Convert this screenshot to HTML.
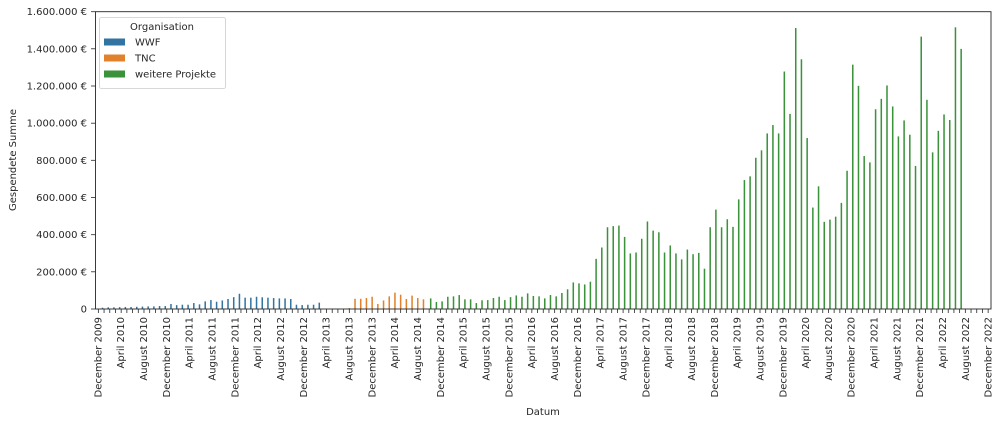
<!DOCTYPE html>
<html><head><meta charset="utf-8"><style>
body{margin:0;background:#fff}
svg text{font-family:"DejaVu Sans","Liberation Sans",sans-serif;fill:#262626}
</style></head><body>
<svg id="s" width="1000" height="425" viewBox="0 0 1000 425" xmlns="http://www.w3.org/2000/svg">
<rect width="1000" height="425" fill="#fff"/>
<g id="bars"></g>
<g id="ticks" stroke="#262626" stroke-width="0.8"></g>
<rect x="95.5" y="11.7" width="895.5" height="297.3" fill="none" stroke="#262626" stroke-width="0.9"/>
<g font-size="10" text-anchor="end">
<text x="87" y="312.5">0</text>
<text x="87" y="275.3">200.000 €</text>
<text x="87" y="238.2">400.000 €</text>
<text x="87" y="201.0">600.000 €</text>
<text x="87" y="163.8">800.000 €</text>
<text x="87" y="126.7">1.000.000 €</text>
<text x="87" y="89.5">1.200.000 €</text>
<text x="87" y="52.3">1.400.000 €</text>
<text x="87" y="15.2">1.600.000 €</text>
</g>
<g stroke="#262626" stroke-width="0.8">
<line x1="91" x2="95.5" y1="309" y2="309"/><line x1="91" x2="95.5" y1="271.8" y2="271.8"/><line x1="91" x2="95.5" y1="234.7" y2="234.7"/><line x1="91" x2="95.5" y1="197.5" y2="197.5"/><line x1="91" x2="95.5" y1="160.3" y2="160.3"/><line x1="91" x2="95.5" y1="123.2" y2="123.2"/><line x1="91" x2="95.5" y1="86" y2="86"/><line x1="91" x2="95.5" y1="48.8" y2="48.8"/><line x1="91" x2="95.5" y1="11.7" y2="11.7"/>
</g>
<text font-size="10" text-anchor="middle" transform="translate(16,160) rotate(-90)">Gespendete Summe</text>
<text font-size="10" x="543" y="415" text-anchor="middle">Datum</text>
<g font-size="10" text-anchor="end">
<text transform="translate(101.4,317) rotate(-90)">December 2009</text>
<text transform="translate(124.2,317) rotate(-90)">April 2010</text>
<text transform="translate(147.0,317) rotate(-90)">August 2010</text>
<text transform="translate(169.8,317) rotate(-90)">December 2010</text>
<text transform="translate(192.7,317) rotate(-90)">April 2011</text>
<text transform="translate(215.5,317) rotate(-90)">August 2011</text>
<text transform="translate(238.3,317) rotate(-90)">December 2011</text>
<text transform="translate(261.2,317) rotate(-90)">April 2012</text>
<text transform="translate(284.0,317) rotate(-90)">August 2012</text>
<text transform="translate(306.8,317) rotate(-90)">December 2012</text>
<text transform="translate(329.7,317) rotate(-90)">April 2013</text>
<text transform="translate(352.5,317) rotate(-90)">August 2013</text>
<text transform="translate(375.3,317) rotate(-90)">December 2013</text>
<text transform="translate(398.1,317) rotate(-90)">April 2014</text>
<text transform="translate(421.0,317) rotate(-90)">August 2014</text>
<text transform="translate(443.8,317) rotate(-90)">December 2014</text>
<text transform="translate(466.6,317) rotate(-90)">April 2015</text>
<text transform="translate(489.5,317) rotate(-90)">August 2015</text>
<text transform="translate(512.3,317) rotate(-90)">December 2015</text>
<text transform="translate(535.1,317) rotate(-90)">April 2016</text>
<text transform="translate(558.0,317) rotate(-90)">August 2016</text>
<text transform="translate(580.8,317) rotate(-90)">December 2016</text>
<text transform="translate(603.6,317) rotate(-90)">April 2017</text>
<text transform="translate(626.4,317) rotate(-90)">August 2017</text>
<text transform="translate(649.3,317) rotate(-90)">December 2017</text>
<text transform="translate(672.1,317) rotate(-90)">April 2018</text>
<text transform="translate(694.9,317) rotate(-90)">August 2018</text>
<text transform="translate(717.8,317) rotate(-90)">December 2018</text>
<text transform="translate(740.6,317) rotate(-90)">April 2019</text>
<text transform="translate(763.4,317) rotate(-90)">August 2019</text>
<text transform="translate(786.3,317) rotate(-90)">December 2019</text>
<text transform="translate(809.1,317) rotate(-90)">April 2020</text>
<text transform="translate(831.9,317) rotate(-90)">August 2020</text>
<text transform="translate(854.7,317) rotate(-90)">December 2020</text>
<text transform="translate(877.6,317) rotate(-90)">April 2021</text>
<text transform="translate(900.4,317) rotate(-90)">August 2021</text>
<text transform="translate(923.2,317) rotate(-90)">December 2021</text>
<text transform="translate(946.1,317) rotate(-90)">April 2022</text>
<text transform="translate(968.9,317) rotate(-90)">August 2022</text>
<text transform="translate(991.7,317) rotate(-90)">December 2022</text>
</g>
<rect x="99.5" y="17.5" width="126" height="71" rx="2" fill="#fff" fill-opacity="0.85" stroke="#ccc" stroke-width="0.8"/>
<text font-size="10" x="162" y="30" text-anchor="middle">Organisation</text>
<rect x="104" y="38.5" width="21" height="7" fill="#3274a1"/>
<rect x="104" y="54.5" width="21" height="7" fill="#e1812c"/>
<rect x="104" y="70.5" width="21" height="7" fill="#3a923a"/>
<text font-size="10" x="135" y="45.5">WWF</text>
<text font-size="10" x="135" y="61.5">TNC</text>
<text font-size="10" x="135" y="77.5">weitere Projekte</text>
</svg>
<script>
var W=895.5/157,L=95.5,B=309,S=297.3/1600;
var blue=[0,7,9,9,10,11,11,12,13,14,14,16,16,27,21,23,23,32,25,41,48,39,46,54,64,82,61,61,66,63,61,59,57,57,54,23,21,23,23,34];
var orange={44:5,45:55,46:55,47:59,48:66,49:27,50:46,51:68,52:88,53:77,54:54,55:72,56:59,57:52};
var green=[57,38,41,66,68,75,52,52,32,47,48,59,66,48,64,73,66,84,70,68,57,75,68,86,106,143,138,132,147,270,331,440,446,449,388,299,304,378,471,422,413,304,342,299,267,320,295,302,217,440,535,440,483,442,590,694,714,814,854,945,990,945,1278,1050,1512,1344,920,546,660,469,481,497,571,744,1315,1201,823,789,1075,1131,1203,1090,929,1015,938,770,1466,1126,843,959,1047,1017,1516,1400];
var h='',t='',bw=W*0.8/3;
function bar(x,v,c){if(v<=0)return;var hh=v*S;h+='<rect x="'+x.toFixed(2)+'" y="'+(B-hh).toFixed(2)+'" width="'+bw.toFixed(2)+'" height="'+hh.toFixed(2)+'" fill="'+c+'"/>';}
for(var i=0;i<157;i++){var c=L+W*(i+0.5);
t+='<line x1="'+c.toFixed(2)+'" x2="'+c.toFixed(2)+'" y1="309" y2="313"/>';
if(i<blue.length)bar(c-1.5*bw,blue[i],'#3274a1');
if(orange[i])bar(c-0.5*bw,orange[i],'#e1812c');
if(i>=58&&i-58<green.length)bar(c+0.5*bw,green[i-58],'#3a923a');}
document.getElementById('bars').innerHTML=h;document.getElementById('ticks').innerHTML=t;
</script>
</body></html>
